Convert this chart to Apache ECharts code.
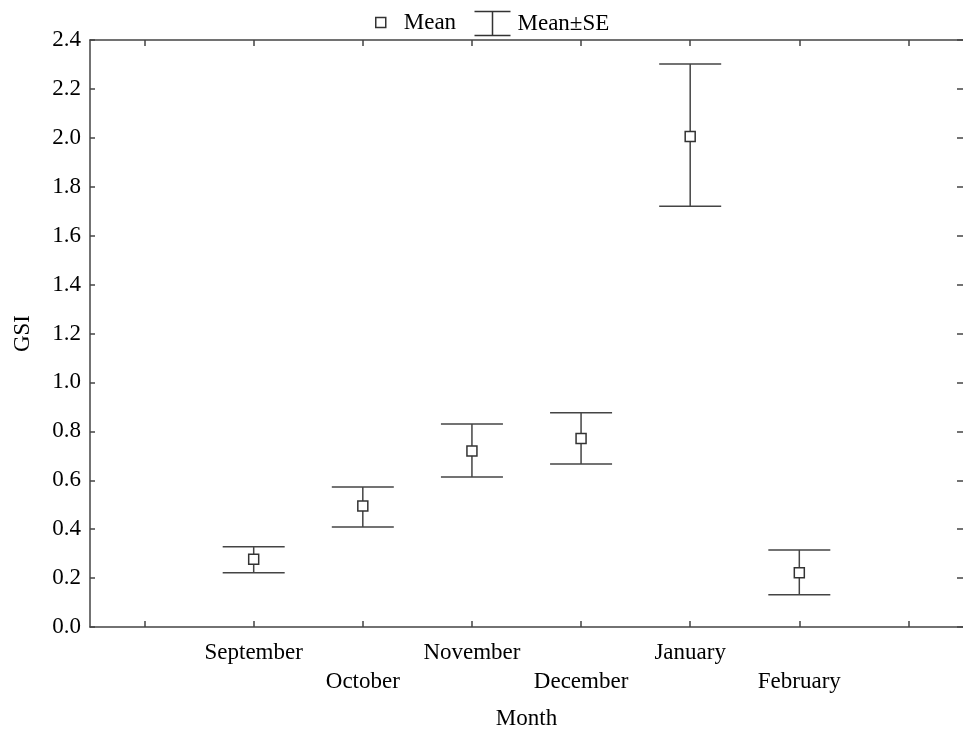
<!DOCTYPE html>
<html>
<head>
<meta charset="utf-8">
<script src="https://cdn.jsdelivr.net/npm/echarts@6/dist/echarts.min.js"></script>
<style>html,body{margin:0;padding:0;background:#fff}#c{width:963px;height:736px}</style>
</head>
<body>
<div id="c"></div>
<script>
var months = ['September', 'October', 'November', 'December', 'January', 'February'];
var meanValues = [0.277, 0.495, 0.72, 0.771, 2.005, 0.222];
var upperValues = [0.328, 0.572, 0.83, 0.876, 2.302, 0.315];
var lowerValues = [0.222, 0.409, 0.613, 0.666, 1.72, 0.132];
var yTicks = { min: 0, max: 2.4, interval: 0.2 };

var categories = [''].concat(months, ['']);
var font = 'Liberation Serif';
var lineColor = '#444';

var meanData = months.map(function (m, i) { return [m, meanValues[i]]; });
var errData = months.map(function (m, i) { return [m, lowerValues[i], upperValues[i]]; });

var chart = echarts.init(document.getElementById('c'));
chart.setOption({
  animation: false,
  backgroundColor: '#fff',
  textStyle: { fontFamily: font, color: '#000' },
  legend: [
    {
      left: 370, top: 6, itemWidth: 10, itemHeight: 10,
      data: [{ name: 'Mean', icon: 'rect', itemStyle: { color: '#fff', borderColor: '#333', borderWidth: 1.5 } }],
      textStyle: { fontFamily: font, fontSize: 23, color: '#000', padding: [0, 0, 0, 13] }
    },
    {
      left: 467, top: 4, itemWidth: 36, itemHeight: 24,
      data: [{ name: 'Mean±SE', icon: 'path://M0,0L36,0M18,0L18,24M0,24L36,24',
        itemStyle: { color: 'none', borderColor: '#333', borderWidth: 1.5 } }],
      textStyle: { fontFamily: font, fontSize: 23, color: '#000', padding: [0, 0, 0, 2] }
    }
  ],
  grid: { left: 90, right: -3, top: 40, bottom: 109 },
  xAxis: [
    {
      type: 'category', data: categories, boundaryGap: true, position: 'bottom',
      name: 'Month', nameLocation: 'middle', nameGap: 80,
      nameTextStyle: { fontFamily: font, fontSize: 23, color: '#000' },
      axisLine: { onZero: false, lineStyle: { color: lineColor, width: 1.5 } },
      axisTick: { show: true, interval: 0, inside: true, alignWithLabel: true, length: 6, lineStyle: { color: lineColor, width: 1.5 } },
      axisLabel: {
        interval: 0, margin: 11, fontFamily: font, fontSize: 23, color: '#000', lineHeight: 29,
        formatter: function (v, i) {
          if (!v) return '';
          return (i % 2 === 0) ? '\n' + v : v;
        }
      },
      splitLine: { show: false }
    },
    {
      type: 'category', data: categories, boundaryGap: true, position: 'top',
      axisLine: { onZero: false, lineStyle: { color: lineColor, width: 1.5 } },
      axisTick: { show: true, interval: 0, inside: true, alignWithLabel: true, length: 6, lineStyle: { color: lineColor, width: 1.5 } },
      axisLabel: { show: false },
      splitLine: { show: false }
    }
  ],
  yAxis: [
    {
      type: 'value', min: yTicks.min, max: yTicks.max, interval: yTicks.interval, position: 'left',
      name: 'GSI', nameLocation: 'middle', nameGap: 56, nameRotate: 90,
      nameTextStyle: { fontFamily: font, fontSize: 23, color: '#000' },
      axisLine: { show: true, onZero: false, lineStyle: { color: lineColor, width: 1.5 } },
      axisTick: { show: true, inside: true, length: 5, lineStyle: { color: lineColor, width: 1.5 } },
      axisLabel: { margin: 9, fontFamily: font, fontSize: 23, color: '#000',
        formatter: function (v) { return v.toFixed(1); } },
      splitLine: { show: false }
    },
    {
      type: 'value', min: yTicks.min, max: yTicks.max, interval: yTicks.interval, position: 'right',
      axisLine: { show: false, onZero: false },
      axisTick: { show: true, inside: true, length: 6, lineStyle: { color: lineColor, width: 1.5 } },
      axisLabel: { show: false },
      splitLine: { show: false }
    }
  ],
  series: [
    {
      name: 'Mean±SE',
      type: 'custom',
      xAxisIndex: 0, yAxisIndex: 0,
      data: errData,
      renderItem: function (params, api) {
        var x = api.value(0);
        var lo = api.coord([x, api.value(1)]);
        var hi = api.coord([x, api.value(2)]);
        var hw = 31;
        var style = { stroke: lineColor, lineWidth: 1.5, fill: null };
        return {
          type: 'group',
          children: [
            { type: 'line', shape: { x1: hi[0], y1: hi[1], x2: lo[0], y2: lo[1] }, style: style },
            { type: 'line', shape: { x1: hi[0] - hw, y1: hi[1], x2: hi[0] + hw, y2: hi[1] }, style: style },
            { type: 'line', shape: { x1: lo[0] - hw, y1: lo[1], x2: lo[0] + hw, y2: lo[1] }, style: style }
          ]
        };
      },
      encode: { x: 0, y: [1, 2] },
      z: 2
    },
    {
      name: 'Mean',
      type: 'scatter',
      xAxisIndex: 0, yAxisIndex: 0,
      data: meanData,
      symbol: 'rect',
      symbolSize: 10,
      itemStyle: { color: '#fff', borderColor: '#333', borderWidth: 1.5, opacity: 1 },
      z: 3
    }
  ]
});
</script>
</body>
</html>
